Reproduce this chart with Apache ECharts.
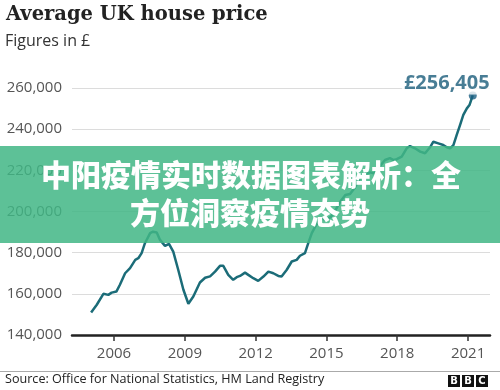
<!DOCTYPE html>
<html><head><meta charset="utf-8">
<script src="https://cdn.jsdelivr.net/npm/echarts@6/dist/echarts.min.js"></script>
<style>html,body{margin:0;padding:0;background:#fff}#c{width:500px;height:390px}</style>
</head><body><div id="c"></div>
<script>
// ---- data ----
const years = [2005.03,2005.27,2005.55,2005.76,2005.9,2006.1,2006.25,2006.47,2006.68,2006.9,
  2007.03,2007.17,2007.31,2007.53,2007.65,2007.81,2007.95,2008.16,2008.33,2008.51,2008.72,2008.94,
  2009.15,2009.36,2009.64,2009.86,2010.07,2010.28,2010.49,2010.63,2010.84,2011.05,2011.2,2011.34,
  2011.55,2011.69,2011.9,2012.11,2012.33,2012.54,2012.75,2012.96,2013.1,2013.32,2013.53,2013.74,
  2013.88,2014.09,2014.23,2014.38,2014.52,2014.66,2014.8,2015.0,2015.2,2015.4,2015.6,2015.8,2016.0,
  2016.2,2016.4,2016.6,2016.85,2017.0,2017.13,2017.3,2017.48,2017.69,2017.85,2017.98,2018.19,2018.4,
  2018.54,2018.75,2018.97,2019.18,2019.39,2019.53,2019.74,2019.95,2020.1,2020.24,2020.38,2020.52,
  2020.66,2020.8,2020.95,2021.06,2021.2];
const prices = [150900,154700,160000,159500,160600,161100,164400,170000,172500,176500,
  177300,179800,184600,189500,190200,189800,186200,183300,184300,180500,171700,162000,
  155200,158700,165500,167800,168500,170800,173600,173600,169200,166800,168100,168700,
  170300,169200,167600,166300,168400,170800,170000,168700,168400,171700,175700,176500,
  178500,179800,184600,189500,192500,195000,196500,196000,197500,201000,205000,208000,208500,
  211500,216000,218000,219000,218500,219400,222500,225000,225900,225000,225400,226700,230700,
  231800,230700,229100,228300,231200,233900,233100,232300,231200,230700,232300,237200,
  242000,246900,250100,251700,256405];
const xTickLabels = [2006, 2009, 2012, 2015, 2018, 2021];
const yMin = 140000, yMax = 260000, yStep = 20000;
const titleText = 'Average UK house price';
const subtitleText = 'Figures in £';
const sourceText = 'Source: Office for National Statistics, HM Land Registry';
const bannerLines = ['中阳疫情实时数据图表解析：全', '方位洞察疫情态势'];

const fmt = v => v.toLocaleString('en-GB');
const lineData = years.map((y, i) => [y, prices[i]]);
const last = lineData[lineData.length - 1];

const chart = echarts.init(document.getElementById('c'), null, {renderer: 'canvas'});
chart.setOption({
  animation: false,
  backgroundColor: '#fff',
  grid: {left: 72, right: 10, top: 88, bottom: 55, containLabel: false},
  xAxis: {
    type: 'value', min: 2004.22, max: 2021.93,
    splitLine: {show: false},
    axisLine: {show: true, onZero: false, lineStyle: {color: '#222', width: 2.5}},
    axisTick: {show: true, customValues: xTickLabels, length: 6, lineStyle: {color: '#333', width: 1.5}},
    axisLabel: {show: true, customValues: xTickLabels, color: '#555', fontSize: 15,
      fontFamily: 'Open Sans', margin: 11, formatter: v => String(v)}
  },
  yAxis: {
    type: 'value', min: yMin, max: yMax, interval: yStep,
    axisLine: {show: false}, axisTick: {show: false},
    splitLine: {show: true, lineStyle: {color: '#dcdcdc', width: 1}},
    axisLabel: {color: '#555', fontSize: 15, fontFamily: 'Open Sans', margin: 10, formatter: v => fmt(v)}
  },
  series: [
    {type: 'line', data: lineData, showSymbol: false, smooth: false,
      lineStyle: {color: '#1b6c78', width: 2.5}, z: 3},
    {type: 'scatter', data: [last], symbol: 'circle', symbolSize: 8,
      itemStyle: {color: '#1a5f82'}, z: 4,
      label: {show: true, position: 'top', distance: 2, offset: [-26, 5],
        formatter: p => '£' + fmt(p.value[1]),
        color: '#1a5d7a', fontSize: 20, fontWeight: 'bold', fontFamily: 'Open Sans',
        backgroundColor: '#fff', padding: [1, 2]}}
  ],
  graphic: [
    {type: 'text', left: 6, top: 5, z: 50,
      style: {text: titleText, font: 'bold 19.5px "DejaVu Serif"', fill: '#222'}},
    {type: 'text', left: 5, top: 33, z: 50,
      style: {text: subtitleText, font: '16px "Open Sans"', fill: '#333'}},
    {type: 'line', z: 50, shape: {x1: 0, y1: 371.5, x2: 500, y2: 371.5},
      style: {stroke: '#aaa', lineWidth: 1}},
    {type: 'text', left: 5, top: 373, z: 50,
      style: {text: sourceText, font: '12.6px "Open Sans"', fill: '#222'}},
    {type: 'group', left: 448, top: 375, z: 50, children: [
      {type: 'rect', shape: {x: 0, y: 0, width: 12, height: 12}, style: {fill: '#111'}},
      {type: 'rect', shape: {x: 14, y: 0, width: 12, height: 12}, style: {fill: '#111'}},
      {type: 'rect', shape: {x: 28, y: 0, width: 12, height: 12}, style: {fill: '#111'}},
      {type: 'text', x: 6, y: 6, style: {text: 'B', font: 'bold 10px "DejaVu Sans"', fill: '#fff', align: 'center', verticalAlign: 'middle'}},
      {type: 'text', x: 20, y: 6, style: {text: 'B', font: 'bold 10px "DejaVu Sans"', fill: '#fff', align: 'center', verticalAlign: 'middle'}},
      {type: 'text', x: 34, y: 6, style: {text: 'C', font: 'bold 10px "DejaVu Sans"', fill: '#fff', align: 'center', verticalAlign: 'middle'}}
    ]},
    {type: 'rect', z: 100, shape: {x: 0, y: 146, width: 500, height: 97},
      style: {fill: 'rgba(65,182,133,0.85)'}},
    {type: 'text', z: 101, x: 251, y: 175,
      style: {text: bannerLines[0], font: '900 30px "Noto Sans CJK SC"', fill: '#fff', align: 'center', verticalAlign: 'middle'}},
    {type: 'text', z: 101, x: 250, y: 213,
      style: {text: bannerLines[1], font: '900 30px "Noto Sans CJK SC"', fill: '#fff', align: 'center', verticalAlign: 'middle'}}
  ]
});
</script></body></html>
